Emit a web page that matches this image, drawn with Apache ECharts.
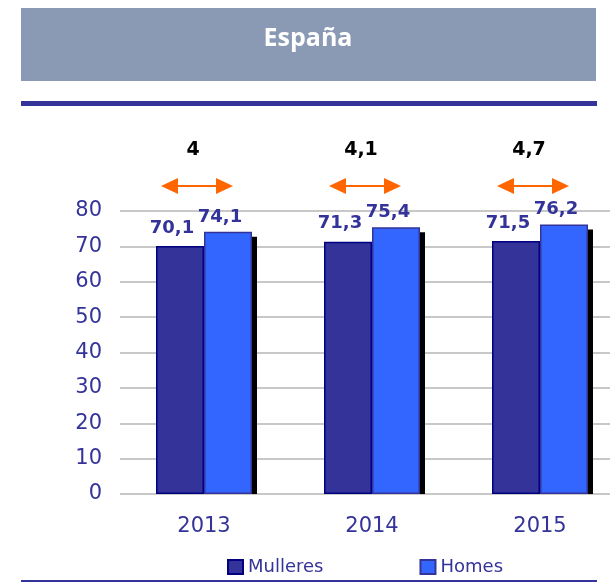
<!DOCTYPE html>
<html lang="es">
<head>
    <meta charset="UTF-8">
    <title>España</title>
    <script src="https://cdn.jsdelivr.net/npm/echarts@6/dist/echarts.min.js"></script>
    <style>
        html, body { margin: 0; background: #fff; overflow: hidden; }
    </style>
</head>
<body>
    <!-- a little wider than the window: the plot runs past the right edge -->
    <div id="main" style="width: 624px;height:583px;"></div>
    <script type="text/javascript">
        // data
        const years = ['2013', '2014', '2015'];
        const mulleres = [70.1, 71.3, 71.5];
        const homes = [74.1, 75.4, 76.2];
        const gap = [4, 4.1, 4.7];
        const yTicks = [0, 10, 20, 30, 40, 50, 60, 70, 80];

        const navy = '#333399';
        const orange = '#FF6600';
        const barW = 48;
        const comma = (v) => String(v).replace('.', ',');

        // orange double arrow with the gap value above it
        function drawGap(params, api) {
            const idx = api.value(0);
            const top = api.coord([idx, 80]);
            const cx = top[0] - 7;
            const ay = top[1] - 25;
            const half = 36, head = 17, hh = 8;
            return {
                type: 'group',
                children: [
                    {
                        type: 'line',
                        shape: { x1: cx - half + head, y1: ay, x2: cx + half - head, y2: ay },
                        style: { stroke: orange, lineWidth: 2 }
                    },
                    {
                        type: 'polygon',
                        shape: { points: [[cx - half, ay], [cx - half + head, ay - hh], [cx - half + head, ay + hh]] },
                        style: { fill: orange }
                    },
                    {
                        type: 'polygon',
                        shape: { points: [[cx + half, ay], [cx + half - head, ay - hh], [cx + half - head, ay + hh]] },
                        style: { fill: orange }
                    },
                    {
                        type: 'text',
                        x: top[0] - 11,
                        y: top[1] - 61,
                        style: {
                            text: comma(api.value(1)),
                            fill: '#000',
                            font: 'bold 19px "DejaVu Sans"',
                            align: 'center',
                            verticalAlign: 'middle'
                        }
                    }
                ]
            };
        }

        // black drop shadow on the right side of the Homes bar
        function drawShadow(params, api) {
            const idx = api.value(0);
            const top = api.coord([idx, api.value(1)]);
            const base = api.coord([idx, 0]);
            return {
                type: 'rect',
                shape: { x: top[0] + barW, y: top[1] + 5, width: 5, height: base[1] - top[1] - 5 },
                style: { fill: '#000' }
            };
        }

        function barLabel(dist) {
            return {
                show: true,
                position: 'top',
                distance: dist,
                offset: [-8, 0],
                color: navy,
                fontFamily: 'DejaVu Sans',
                fontWeight: 'bold',
                fontSize: 18,
                formatter: (p) => comma(p.value)
            };
        }

        let options = {
            animation: false,
            backgroundColor: '#fff',
            graphic: [
                { type: 'rect', shape: { x: 21, y: 8, width: 575, height: 73 }, style: { fill: '#8A9AB4' }, z: -1 },
                {
                    type: 'text', x: 308, y: 39,
                    style: { text: 'España', fill: '#fff', font: 'bold 25px "Open Sans"', align: 'center', verticalAlign: 'middle' }
                },
                { type: 'rect', shape: { x: 21, y: 101, width: 576, height: 5 }, style: { fill: navy } },
                { type: 'rect', shape: { x: 21, y: 580, width: 576, height: 2 }, style: { fill: navy } }
            ],
            grid: { left: 120, right: 0, top: 211, bottom: 89, containLabel: false },
            legend: {
                data: ['Mulleres', 'Homes'],
                left: 222,
                top: 553,
                itemWidth: 15,
                itemHeight: 14,
                itemGap: 96,
                icon: 'rect',
                textStyle: { color: navy, fontFamily: 'DejaVu Sans', fontSize: 18 }
            },
            xAxis: {
                type: 'category',
                data: years,
                axisLine: { show: false },
                axisTick: { show: false },
                axisLabel: { color: navy, fontFamily: 'DejaVu Sans', fontSize: 21, margin: 22 }
            },
            yAxis: {
                type: 'value',
                min: yTicks[0],
                max: yTicks[yTicks.length - 1],
                interval: 10,
                axisLine: { show: false },
                axisTick: { show: false },
                axisLabel: { color: navy, fontFamily: 'DejaVu Sans', fontSize: 21, margin: 18 },
                splitLine: { lineStyle: { color: '#C8C8C8', width: 2 } }
            },
            series: [
                {
                    name: 'shadow',
                    type: 'custom',
                    renderItem: drawShadow,
                    z: 1,
                    silent: true,
                    data: homes.map((v, i) => [i, v])
                },
                {
                    name: 'Mulleres',
                    type: 'bar',
                    data: mulleres,
                    barWidth: barW,
                    barGap: '0%',
                    z: 2,
                    itemStyle: { color: navy, borderColor: '#000080', borderWidth: 1.5 },
                    label: barLabel(9)
                },
                {
                    name: 'Homes',
                    type: 'bar',
                    data: homes,
                    barWidth: barW,
                    z: 2,
                    itemStyle: { color: '#3366FF', borderColor: navy, borderWidth: 1.5 },
                    label: barLabel(6)
                },
                {
                    name: 'gap',
                    type: 'custom',
                    renderItem: drawGap,
                    clip: false,
                    z: 10,
                    data: gap.map((d, i) => [i, d])
                }
            ]
        };

        let myChart = echarts.init(document.getElementById('main'));
        myChart.setOption(options);
    </script>
</body>
</html>
